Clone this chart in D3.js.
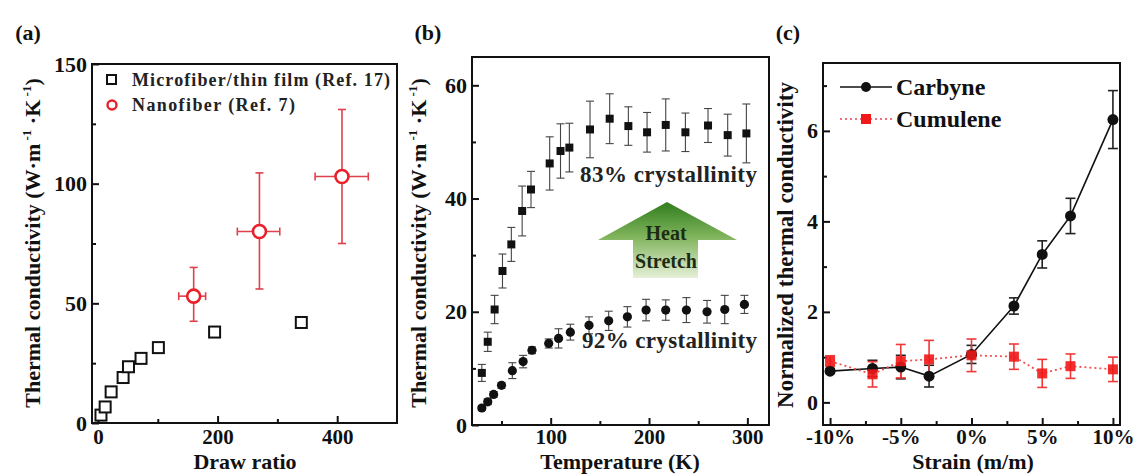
<!DOCTYPE html>
<html>
<head>
<meta charset="utf-8">
<script src="https://cdn.jsdelivr.net/npm/d3@7"></script>
<style>
  body { margin: 0; background: #fff; }
  text { font-family: "Liberation Serif", "Times New Roman", serif; font-weight: bold; }
</style>
</head>
<body>
<svg id="fig" width="1135" height="474"></svg>
<script>
// (a) draw ratio data
const microRatio = [5, 12, 22, 42, 51, 72, 101, 195, 340];
const microK = [3.3, 6.7, 13, 19, 23.5, 27, 31.5, 38, 42];
const nanoRatio = [160, 270, 408];
const nanoK = [53, 80, 103];
const nanoRatioLo = [135, 233, 363];
const nanoRatioHi = [180, 304, 452];
const nanoKLo = [42.5, 56, 75];
const nanoKHi = [65, 104.5, 131];

// (b) temperature data
const tempSq = [30, 36, 43, 51, 60, 71, 80, 99, 110, 119, 140, 160, 179, 198, 217, 237, 260, 280, 299];
const kSq = [9.2, 14.7, 20.4, 27.2, 31.9, 37.8, 41.6, 46.2, 48.4, 49.0, 52.2, 54.1, 52.8, 51.7, 53.0, 51.7, 52.9, 51.2, 51.5];
const errSq = [1.5, 1.7, 2.5, 3.0, 3.0, 4.4, 3.2, 4.7, 4.8, 4.3, 5.0, 4.4, 3.4, 3.5, 4.6, 3.4, 3.0, 3.7, 5.2];
const tempCi = [30, 36, 42, 50, 61, 72, 81, 98, 108, 120, 139, 159, 178, 197, 217, 238, 259, 277, 297];
const kCi = [3.0, 4.1, 5.4, 7.0, 9.6, 11.2, 13.2, 14.4, 15.3, 16.4, 17.6, 18.4, 19.1, 20.3, 20.3, 20.3, 20.0, 20.4, 21.3];
const errCi = [0.4, 0.5, 0.5, 0.5, 1.4, 1.1, 0.6, 0.8, 1.7, 1.4, 1.5, 1.7, 1.8, 1.9, 1.8, 2.2, 2.0, 2.5, 1.6];

// (c) strain data
const strain = [-10, -7, -5, -3, 0, 3, 5, 7, 10];
const carbyne = [0.69, 0.75, 0.78, 0.58, 1.06, 2.13, 3.27, 4.12, 6.25];
const carbyneErr = [0.05, 0.18, 0.26, 0.24, 0.2, 0.18, 0.3, 0.39, 0.64];
const cumulene = [0.91, 0.62, 0.91, 0.95, 1.04, 1.01, 0.64, 0.80, 0.73];
const cumuleneErr = [0.12, 0.28, 0.37, 0.42, 0.36, 0.28, 0.31, 0.27, 0.27];

const svg = d3.select("#fig");

// frame with inward ticks, like Origin plots
function frame(x, y, o) {
  const g = svg.append("g");
  const [x0, x1] = x.range(), [y0, y1] = y.range();
  const xa = g.append("g").attr("transform", `translate(0,${y0})`)
    .call(d3.axisBottom(x).tickValues(o.xt).tickSize(-7).tickPadding(4).tickFormat(o.xf || d3.format("d")));
  g.append("g").attr("transform", `translate(0,${y0})`)
    .call(d3.axisBottom(x).tickValues(o.xm).tickSize(-4).tickFormat(""));
  g.append("g").attr("transform", `translate(${x0},0)`)
    .call(d3.axisLeft(y).tickValues(o.yt).tickSize(-7).tickPadding(5).tickFormat(d3.format("d")));
  g.append("g").attr("transform", `translate(${x0},0)`)
    .call(d3.axisLeft(y).tickValues(o.ym).tickSize(-4).tickFormat(""));
  g.selectAll(".domain").remove();
  g.selectAll(".tick line").attr("stroke", "#111").attr("stroke-width", 2);
  g.selectAll(".tick text").attr("font-family", null).attr("font-size", 22).attr("fill", "#111");
  // x tick labels sit on a common baseline just above the axis title
  xa.selectAll(".tick text").attr("font-size", 21).attr("y", 444 - y0).attr("dy", 0);
  g.append("rect").attr("x", x0).attr("y", y1).attr("width", x1 - x0).attr("height", y0 - y1)
    .attr("fill", "none").attr("stroke", "#111").attr("stroke-width", 2);
  return g;
}

function label(txt, x, y, size) {
  return svg.append("text").attr("x", x).attr("y", y).attr("font-size", size)
    .attr("text-anchor", "middle").attr("fill", "#111").text(txt);
}

function kLabel(cx, cy) {
  const t = svg.append("text").attr("transform", `translate(${cx},${cy}) rotate(-90)`)
    .attr("text-anchor", "middle").attr("font-size", 22).attr("fill", "#111");
  t.append("tspan").text("Thermal conductivity (W·m");
  t.append("tspan").attr("font-size", 13).attr("dy", -9).text(" -1");
  t.append("tspan").attr("dy", 9).text(" ·K");
  t.append("tspan").attr("font-size", 13).attr("dy", -9).text(" -1");
  t.append("tspan").attr("dy", 9).text(")");
}

// ---------- panel (a) ----------
const xA = d3.scaleLinear().domain([-10, 500]).range([92, 397]);
const yA = d3.scaleLinear().domain([0, 150]).range([423, 64]);
frame(xA, yA, { xt: [0, 200, 400], xm: [100, 300], yt: [0, 50, 100, 150], ym: [25, 75, 125] });

const aNano = svg.append("g").attr("stroke", "#e0404c").attr("stroke-width", 1.6).attr("fill", "none");
nanoRatio.forEach((r, i) => {
  const cx = xA(r), cy = yA(nanoK[i]);
  aNano.append("line").attr("x1", cx).attr("x2", cx).attr("y1", yA(nanoKLo[i])).attr("y2", yA(nanoKHi[i]));
  aNano.append("line").attr("x1", xA(nanoRatioLo[i])).attr("x2", xA(nanoRatioHi[i])).attr("y1", cy).attr("y2", cy);
  [nanoKLo[i], nanoKHi[i]].forEach(v =>
    aNano.append("line").attr("x1", cx - 4).attr("x2", cx + 4).attr("y1", yA(v)).attr("y2", yA(v)));
  [nanoRatioLo[i], nanoRatioHi[i]].forEach(v =>
    aNano.append("line").attr("x1", xA(v)).attr("x2", xA(v)).attr("y1", cy - 4).attr("y2", cy + 4));
});
svg.append("g").selectAll("circle").data(nanoRatio).join("circle")
  .attr("cx", d => xA(d)).attr("cy", (d, i) => yA(nanoK[i])).attr("r", 6.5)
  .attr("fill", "#fff").attr("stroke", "#e8202a").attr("stroke-width", 2.6);
svg.append("g").selectAll("rect").data(microRatio).join("rect")
  .attr("x", d => xA(d) - 5.5).attr("y", (d, i) => yA(microK[i]) - 5.5).attr("width", 11).attr("height", 11)
  .attr("fill", "#fff").attr("stroke", "#111").attr("stroke-width", 2);

// legend (a)
svg.append("rect").attr("x", 107).attr("y", 75).attr("width", 9).attr("height", 9)
  .attr("fill", "none").attr("stroke", "#111").attr("stroke-width", 2);
svg.append("circle").attr("cx", 112).attr("cy", 105).attr("r", 4.5)
  .attr("fill", "none").attr("stroke", "#e8202a").attr("stroke-width", 2.4);
svg.append("text").attr("x", 132).attr("y", 86).attr("font-size", 18).attr("fill", "#222")
  .attr("textLength", 258).text("Microfiber/thin film (Ref. 17)");
svg.append("text").attr("x", 132).attr("y", 111).attr("font-size", 18).attr("fill", "#222")
  .attr("textLength", 163).text("Nanofiber (Ref. 7)");

label("(a)", 28, 40, 22);
label("Draw ratio", 245, 469, 22);
kLabel(40, 243);

// ---------- panel (b) ----------
const xB = d3.scaleLinear().domain([20, 322]).range([472, 769]);
const yB = d3.scaleLinear().domain([0, 65]).range([425, 57]);
frame(xB, yB, { xt: [100, 200, 300], xm: [50, 150, 250], yt: [0, 20, 40, 60], ym: [10, 30, 50] });

const bErr = svg.append("g").attr("stroke", "#444").attr("stroke-width", 1.1);
function errBars(xs, ys, es, x, y, w) {
  xs.forEach((t, i) => {
    const cx = x(t);
    bErr.append("line").attr("x1", cx).attr("x2", cx).attr("y1", y(ys[i] - es[i])).attr("y2", y(ys[i] + es[i]));
    [ys[i] - es[i], ys[i] + es[i]].forEach(v =>
      bErr.append("line").attr("x1", cx - w).attr("x2", cx + w).attr("y1", y(v)).attr("y2", y(v)));
  });
}
errBars(tempSq, kSq, errSq, xB, yB, 4);
errBars(tempCi, kCi, errCi, xB, yB, 4);
svg.append("g").selectAll("rect").data(tempSq).join("rect")
  .attr("x", d => xB(d) - 4).attr("y", (d, i) => yB(kSq[i]) - 4).attr("width", 8).attr("height", 8)
  .attr("fill", "#111");
svg.append("g").selectAll("circle").data(tempCi).join("circle")
  .attr("cx", d => xB(d)).attr("cy", (d, i) => yB(kCi[i])).attr("r", 4.6).attr("fill", "#111");

svg.append("text").attr("x", 580).attr("y", 182).attr("font-size", 23).attr("fill", "#222")
  .attr("textLength", 177).text("83% crystallinity");
svg.append("text").attr("x", 582).attr("y", 348).attr("font-size", 23).attr("fill", "#222")
  .attr("textLength", 175).text("92% crystallinity");

// heat-stretch arrow
const grad = svg.append("defs").append("linearGradient").attr("id", "arrowGrad")
  .attr("x1", 0).attr("y1", 0).attr("x2", 0).attr("y2", 1);
grad.append("stop").attr("offset", "0%").attr("stop-color", "#2f7d1e");
grad.append("stop").attr("offset", "45%").attr("stop-color", "#7fb35a");
grad.append("stop").attr("offset", "100%").attr("stop-color", "#e6f0d8");
svg.append("path")
  .attr("d", "M667,202 L737,240 L698,240 L698,278 L633,278 L633,240 L598,240 Z")
  .attr("fill", "url(#arrowGrad)");
svg.append("text").attr("x", 666).attr("y", 240).attr("font-size", 20).attr("fill", "#1c2c14")
  .attr("text-anchor", "middle").text("Heat");
svg.append("text").attr("x", 666).attr("y", 268).attr("font-size", 20).attr("fill", "#1c2c14")
  .attr("text-anchor", "middle").text("Stretch");

label("(b)", 428, 40, 22);
label("Temperature (K)", 620, 469, 22);
kLabel(426, 243);

// ---------- panel (c) ----------
const xC = d3.scaleLinear().domain([-10.5, 10.5]).range([823, 1120]);
const yC = d3.scaleLinear().domain([-0.5, 7.5]).range([425, 63]);
frame(xC, yC, { xt: [-10, -5, 0, 5, 10], xm: [-7.5, -2.5, 2.5, 7.5], xf: d => d + "%",
  yt: [0, 2, 4, 6], ym: [1, 3, 5, 7] });

const line = d3.line().x((d, i) => xC(strain[i])).y(d => yC(d));
svg.append("path").datum(carbyne).attr("d", line).attr("fill", "none")
  .attr("stroke", "#111").attr("stroke-width", 1.6);
svg.append("path").datum(cumulene).attr("d", line).attr("fill", "none")
  .attr("stroke", "#f05050").attr("stroke-width", 1.8).attr("stroke-dasharray", "2,3");

function errC(vals, errs, color) {
  const g = svg.append("g").attr("stroke", color).attr("stroke-width", 1.6);
  strain.forEach((s, i) => {
    const cx = xC(s);
    g.append("line").attr("x1", cx).attr("x2", cx).attr("y1", yC(vals[i] - errs[i])).attr("y2", yC(vals[i] + errs[i]));
    [vals[i] - errs[i], vals[i] + errs[i]].forEach(v =>
      g.append("line").attr("x1", cx - 5).attr("x2", cx + 5).attr("y1", yC(v)).attr("y2", yC(v)));
  });
}
errC(carbyne, carbyneErr, "#222");
errC(cumulene, cumuleneErr, "#f03838");
svg.append("g").selectAll("circle").data(carbyne).join("circle")
  .attr("cx", (d, i) => xC(strain[i])).attr("cy", d => yC(d)).attr("r", 5.5).attr("fill", "#111");
svg.append("g").selectAll("rect").data(cumulene).join("rect")
  .attr("x", (d, i) => xC(strain[i]) - 5).attr("y", d => yC(d) - 5).attr("width", 10).attr("height", 10)
  .attr("fill", "#f01818").attr("opacity", 0.9);

// legend (c)
svg.append("line").attr("x1", 840).attr("x2", 892).attr("y1", 87).attr("y2", 87)
  .attr("stroke", "#111").attr("stroke-width", 1.6);
svg.append("circle").attr("cx", 866).attr("cy", 87).attr("r", 5).attr("fill", "#111");
svg.append("line").attr("x1", 840).attr("x2", 892).attr("y1", 119).attr("y2", 119)
  .attr("stroke", "#f07080").attr("stroke-width", 1.8).attr("stroke-dasharray", "2,3");
svg.append("rect").attr("x", 861).attr("y", 114).attr("width", 10).attr("height", 10).attr("fill", "#f01818");
svg.append("text").attr("x", 896).attr("y", 95).attr("font-size", 24).attr("fill", "#111").text("Carbyne");
svg.append("text").attr("x", 896).attr("y", 127).attr("font-size", 24).attr("fill", "#111").text("Cumulene");

label("(c)", 788, 40, 22);
label("Strain (m/m)", 973, 469, 22);
svg.append("text").attr("transform", "translate(793,245) rotate(-90)")
  .attr("text-anchor", "middle").attr("font-size", 23).attr("fill", "#111")
  .text("Normalized thermal conductivity");
</script>
</body>
</html>
